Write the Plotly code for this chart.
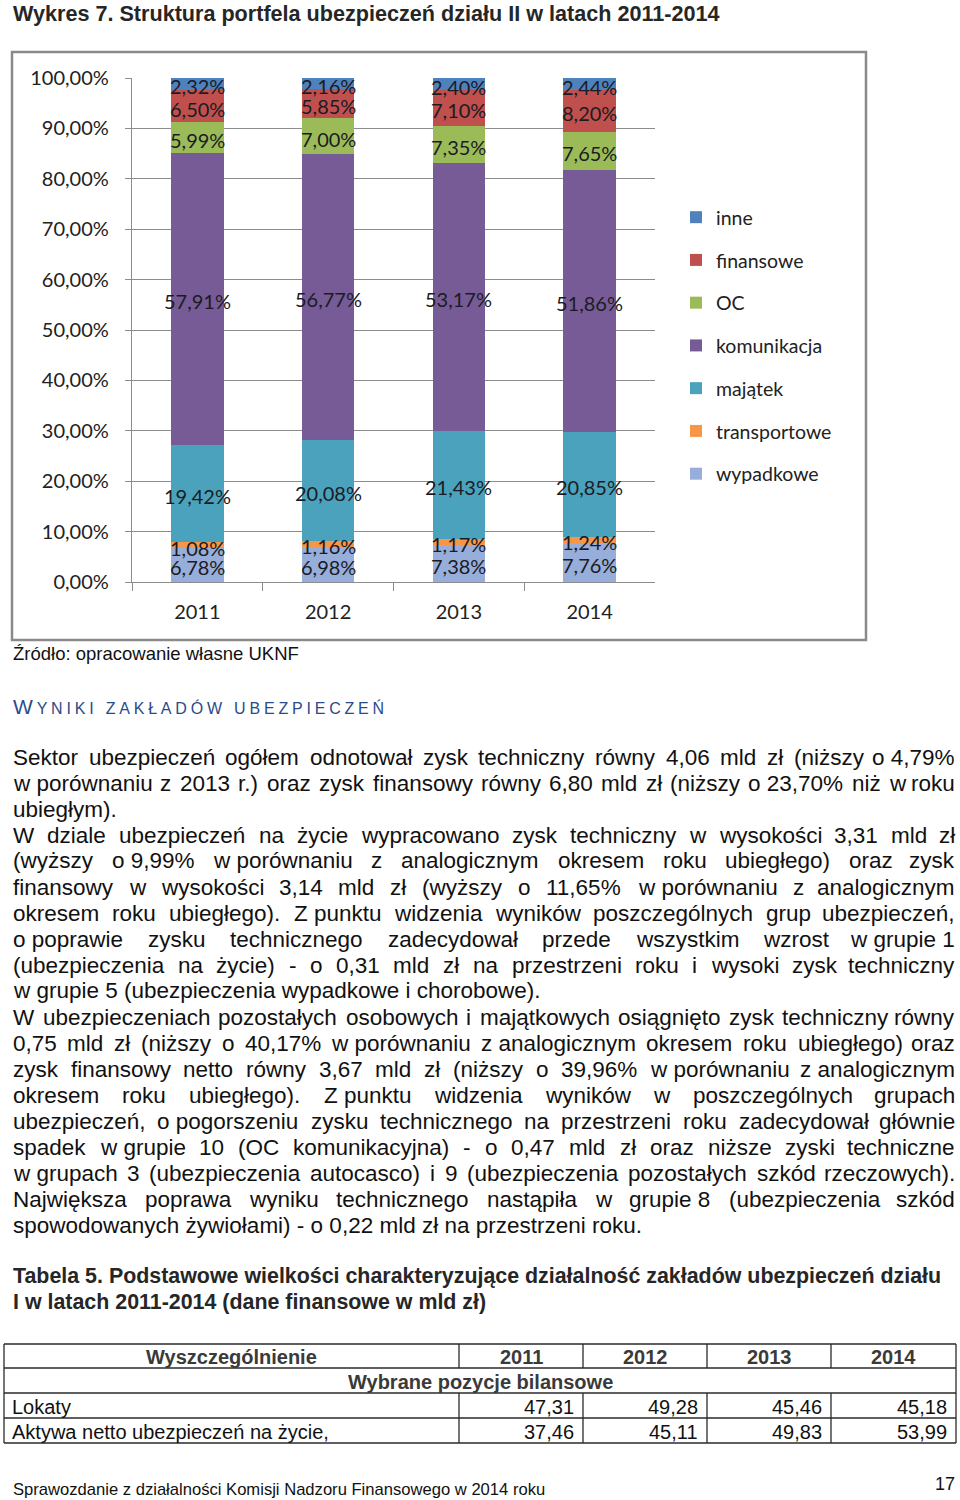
import plotly.graph_objects as go

# ---------------- chart data ----------------
years = ["2011", "2012", "2013", "2014"]
wypadkowe = [6.78, 6.98, 7.38, 7.76]
transportowe = [1.08, 1.16, 1.17, 1.24]
majatek = [19.42, 20.08, 21.43, 20.85]
komunikacja = [57.91, 56.77, 53.17, 51.86]
oc = [5.99, 7.00, 7.35, 7.65]
finansowe = [6.50, 5.85, 7.10, 8.20]
inne = [2.32, 2.16, 2.40, 2.44]

series_names = ["wypadkowe", "transportowe", "majątek", "komunikacja", "OC", "finansowe", "inne"]
series_values = [wypadkowe, transportowe, majatek, komunikacja, oc, finansowe, inne]
series_colors = ["#97AEDA", "#F79646", "#4AA2BC", "#765B97", "#9BBB59", "#C0504D", "#4F81BD"]

y_tick_values = [0, 10, 20, 30, 40, 50, 60, 70, 80, 90, 100]
y_tick_labels = ["0,00%", "10,00%", "20,00%", "30,00%", "40,00%", "50,00%",
                 "60,00%", "70,00%", "80,00%", "90,00%", "100,00%"]

# ---------------- table data ----------------
table_header = ["Wyszczególnienie", "2011", "2012", "2013", "2014"]
table_section = "Wybrane pozycje bilansowe"
table_row_labels = ["Lokaty", "Aktywa netto ubezpieczeń na życie,"]
lokaty = [47.31, 49.28, 45.46, 45.18]
aktywa = [37.46, 45.11, 49.83, 53.99]

# ---------------- page text ----------------
title_text = "Wykres 7. Struktura portfela ubezpieczeń działu II w latach 2011-2014"
source_text = "Źródło: opracowanie własne UKNF"
table_title_lines = [
    "Tabela 5. Podstawowe wielkości charakteryzujące działalność zakładów ubezpieczeń działu",
    "I w latach 2011-2014 (dane finansowe w mld zł)",
]
footer_text = "Sprawozdanie z działalności Komisji Nadzoru Finansowego w 2014 roku"
page_number = "17"
NB = "\u00a0"
body_lines = [
    ("Sektor ubezpieczeń ogółem odnotował zysk techniczny równy 4,06 mld zł (niższy o" + NB + "4,79%", True),
    ("w" + NB + "porównaniu z 2013 r.) oraz zysk finansowy równy 6,80 mld zł (niższy o" + NB + "23,70% niż w roku", True),
    ("ubiegłym).", False),
    ("W dziale ubezpieczeń na życie wypracowano zysk techniczny w wysokości 3,31 mld zł", True),
    ("(wyższy o" + NB + "9,99% w" + NB + "porównaniu z analogicznym okresem roku ubiegłego) oraz zysk", True),
    ("finansowy w wysokości 3,14 mld zł (wyższy o 11,65% w" + NB + "porównaniu z analogicznym", True),
    ("okresem roku ubiegłego). Z" + NB + "punktu widzenia wyników poszczególnych grup ubezpieczeń,", True),
    ("o" + NB + "poprawie zysku technicznego zadecydował przede wszystkim wzrost w" + NB + "grupie" + NB + "1", True),
    ("(ubezpieczenia na życie) - o 0,31 mld zł na przestrzeni roku i wysoki zysk techniczny", True),
    ("w" + NB + "grupie 5 (ubezpieczenia wypadkowe i chorobowe).", False),
    ("W ubezpieczeniach pozostałych osobowych i majątkowych osiągnięto zysk techniczny równy", True),
    ("0,75 mld zł (niższy o 40,17% w" + NB + "porównaniu z" + NB + "analogicznym okresem roku ubiegłego) oraz", True),
    ("zysk finansowy netto równy 3,67 mld zł (niższy o 39,96% w" + NB + "porównaniu z" + NB + "analogicznym", True),
    ("okresem roku ubiegłego). Z" + NB + "punktu widzenia wyników w poszczególnych grupach", True),
    ("ubezpieczeń, o" + NB + "pogorszeniu zysku technicznego na przestrzeni roku zadecydował głównie", True),
    ("spadek w" + NB + "grupie 10 (OC komunikacyjna) - o 0,47 mld zł oraz niższe zyski techniczne", True),
    ("w" + NB + "grupach 3 (ubezpieczenia autocasco) i 9 (ubezpieczenia pozostałych szkód rzeczowych).", True),
    ("Największa poprawa wyniku technicznego nastąpiła w grupie" + NB + "8 (ubezpieczenia szkód", True),
    ("spowodowanych żywiołami) - o 0,22 mld zł na przestrzeni roku.", False),
]

# ---------------- helpers ----------------
PW, PH = 960, 1500


def X(px):
    return px / PW


def Y(py):
    return 1 - py / PH


# approximate Arial / Liberation Sans advance widths (1/1000 em)
AW = {}


def _setw(chars, w):
    for c in chars:
        AW[c] = w


_setw("abdeghnopqu0123456789ąęóńLŁ", 556)
_setw("cksvxyzśźżćJ", 500)
_setw("wCDHNRUŃĆ", 722)
_setw("mM", 833)
_setw("ft ,.:;I/!" + NB, 278)
_setw("ijlł", 222)
_setw("r()-", 333)
_setw("%", 889)
_setw("ABEKPSVXYĄĘŚ", 667)
_setw("FTZŹŻ", 611)
_setw("GOQÓ", 778)
_setw("W", 944)


def text_w(s, size):
    return sum(AW.get(c, 556) for c in s) * size / 1000.0


SANS = "Liberation Sans, Arial, sans-serif"
BODY_FONT = dict(family=SANS, size=22.5, color="#111111")
CHART_FONT = "Lato, Calibri, sans-serif"

annotations = []


def add_text(txt, x, y, font, xanchor="left"):
    annotations.append(dict(text=txt, x=X(x), y=Y(y), xref="paper", yref="paper",
                            xanchor=xanchor, yanchor="middle", showarrow=False,
                            borderpad=0, font=font))


# ---------------- figure ----------------
fig = go.Figure()

label_font = dict(family=CHART_FONT, size=20, color="#1b1b24")
cumulative = [0.0] * len(years)
n_series = len(series_names)
for idx, (name, vals, col) in enumerate(zip(series_names, series_values, series_colors)):
    fig.add_trace(go.Bar(
        x=years, y=vals, name=name, marker=dict(color=col, line=dict(width=0)),
        legendgroup=name, legendrank=n_series - idx, hoverinfo="skip",
    ))
    mids = [c + v / 2.0 for c, v in zip(cumulative, vals)]
    cumulative = [c + v for c, v in zip(cumulative, vals)]
    # data labels centred in each segment, placed in data coordinates
    # (category axes take the category's serial number as x)
    for cat_index, (m, v) in enumerate(zip(mids, vals)):
        annotations.append(dict(text=("%.2f" % v).replace(".", ",") + "%", x=cat_index, y=m,
                                xref="x", yref="y", xanchor="center", yanchor="middle",
                                yshift=-2.5, showarrow=False, borderpad=0, font=label_font))

# chart frame
shapes = [dict(type="rect", xref="paper", yref="paper", x0=X(12), x1=X(866), y0=Y(640), y1=Y(52),
               line=dict(color="#8a8a8a", width=2.5), fillcolor="rgba(0,0,0,0)", layer="below")]

# page texts
add_text(title_text, 12, 13, dict(family=SANS, size=21.6, color="#262626", weight="bold"))
add_text(source_text, 12, 654, dict(family=SANS, size=18.5, color="#111111"))
add_text("<span style='letter-spacing:3.8px'>W</span><span style='font-size:16px;letter-spacing:3.8px'>YNIKI ZAKŁADÓW UBEZPIECZEŃ</span>",
         12, 706, dict(family=SANS, size=21, color="#2B4A8A"))

# justified body text
x_left, x_right = 12, 956
for i, (line, justify) in enumerate(body_lines):
    yy = 757 + 26 * i
    if not justify:
        add_text(line, x_left, yy, BODY_FONT)
        continue
    words = line.split(" ")
    widths = [text_w(w, BODY_FONT["size"]) for w in words]
    gap = (x_right - x_left - sum(widths)) / (len(words) - 1)
    xpos = x_left
    for j, (w, wd) in enumerate(zip(words, widths)):
        if j == len(words) - 1:
            add_text(w, x_right, yy, BODY_FONT, xanchor="right")
        else:
            add_text(w, xpos, yy, BODY_FONT)
        xpos += wd + gap

# table title
for i, line in enumerate(table_title_lines):
    add_text(line, 12, 1276 + 26 * i, dict(family=SANS, size=21.4, color="#262626", weight="bold"))

# table grid
col_edges = [4, 459, 583, 707, 831, 956]
row_edges = [1344, 1368, 1393, 1418, 1443]
line_style = dict(color="#2a2a2a", width=1.3)
for ry in row_edges:
    shapes.append(dict(type="line", xref="paper", yref="paper", x0=X(col_edges[0]), x1=X(col_edges[-1]),
                       y0=Y(ry), y1=Y(ry), line=line_style))
for k, cx in enumerate(col_edges):
    if k in (0, len(col_edges) - 1):
        shapes.append(dict(type="line", xref="paper", yref="paper", x0=X(cx), x1=X(cx),
                           y0=Y(row_edges[0]), y1=Y(row_edges[-1]), line=line_style))
    else:
        shapes.append(dict(type="line", xref="paper", yref="paper", x0=X(cx), x1=X(cx),
                           y0=Y(row_edges[0]), y1=Y(row_edges[1]), line=line_style))
        shapes.append(dict(type="line", xref="paper", yref="paper", x0=X(cx), x1=X(cx),
                           y0=Y(row_edges[2]), y1=Y(row_edges[-1]), line=line_style))

head_font = dict(family=SANS, size=20, color="#3a3a3a", weight="bold")
cell_font = dict(family=SANS, size=20, color="#111111")
for k, h in enumerate(table_header):
    cx = (col_edges[k] + col_edges[k + 1]) / 2.0
    add_text(h, cx, (row_edges[0] + row_edges[1]) / 2.0 + 1, head_font, xanchor="center")
add_text(table_section, (col_edges[0] + col_edges[-1]) / 2.0, (row_edges[1] + row_edges[2]) / 2.0 + 1,
         head_font, xanchor="center")
for r, (label, vals) in enumerate(zip(table_row_labels, [lokaty, aktywa])):
    ry = (row_edges[2 + r] + row_edges[3 + r]) / 2.0 + 1
    add_text(label, 11, ry, cell_font)
    for k, v in enumerate(vals):
        add_text(("%.2f" % v).replace(".", ","), col_edges[k + 2] - 8, ry, cell_font, xanchor="right")

# footer
add_text(footer_text, 12, 1489, dict(family=SANS, size=16.6, color="#111111"))
add_text(page_number, 956, 1484, dict(family=SANS, size=18, color="#111111"), xanchor="right")

axis_font = dict(family=CHART_FONT, size=20, color="#222222")
fig.update_layout(
    width=PW, height=PH, autosize=False,
    margin=dict(l=0, r=0, t=0, b=0, pad=0, autoexpand=False),
    paper_bgcolor="white", plot_bgcolor="white",
    barmode="stack", bargap=0.6,
    showlegend=True,
    legend=dict(x=X(676), y=Y(198), xanchor="left", yanchor="top",
                traceorder="grouped", tracegroupgap=14.4,
                font=dict(family=CHART_FONT, size=19.5, color="#222222"),
                bgcolor="rgba(0,0,0,0)", borderwidth=0),
    xaxis=dict(domain=[X(132), X(655)], type="category", automargin=False,
               range=[-0.5, len(years) - 0.5],
               showline=True, linecolor="#8c8c8c", linewidth=1.3,
               ticks="outside", tickson="boundaries", ticklen=8, tickcolor="#8c8c8c", tickwidth=1.3,
               showgrid=False, tickfont=axis_font, ticklabelstandoff=12, fixedrange=True),
    yaxis=dict(domain=[Y(582), Y(78)], range=[0, 100], automargin=False,
               tickvals=y_tick_values, ticktext=y_tick_labels,
               showline=True, linecolor="#8c8c8c", linewidth=1.3, ticks="outside", ticklen=6,
               tickcolor="#8c8c8c", tickwidth=1.3, showgrid=True, gridcolor="#8c8c8c", gridwidth=1.3,
               zeroline=False, tickfont=axis_font, ticklabelstandoff=12, fixedrange=True),
    shapes=shapes,
    annotations=annotations,
)

fig.write_html("out.html", config={"displayModeBar": False},
               post_script="document.body.style.margin='0';")
